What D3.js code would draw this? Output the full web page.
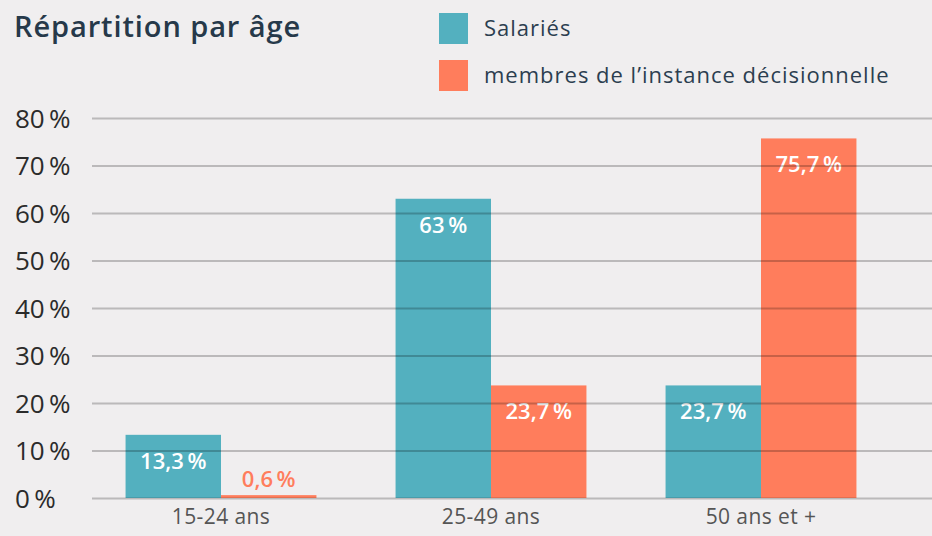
<!DOCTYPE html>
<html>
<head>
<meta charset="utf-8">
<script src="https://cdn.jsdelivr.net/npm/d3@7"></script>
<style>
  body { margin: 0; background: #f0eeef; }
  svg { display: block; font-family: "Open Sans", sans-serif; }
</style>
</head>
<body>
<div id="chart"></div>
<script>
const categories = [`15-24 ans`, `25-49 ans`, `50 ans et +`];
const seriesNames = [`Salariés`, `membres de l’instance décisionnelle`];
const salaries = [13.3, 63, 23.7];
const membres = [0.6, 23.7, 75.7];
const yTicks = [0, 10, 20, 30, 40, 50, 60, 70, 80];

const colors = [`#53b0bf`, `#ff7d5c`];
const width = 932;
const height = 536;
const font = `"Open Sans", sans-serif`;

const fr = d3.formatLocale({ decimal: `,`, thousands: ` `, grouping: [3], currency: [``, `€`] });
const fmt = v => fr.format(Number.isInteger(v) ? `d` : `.1f`)(v) + `\u2009%`;

const data = categories.map((c, i) => ({
  category: c,
  values: [salaries[i], membres[i]]
}));

const svg = d3.select(`#chart`).append(`svg`)
    .attr(`width`, width)
    .attr(`height`, height);

const x0 = d3.scaleBand()
    .domain(categories)
    .range([86, 896])
    .paddingInner(0.293)
    .paddingOuter(0.1465);
const x1 = d3.scaleBand()
    .domain([0, 1])
    .range([0, x0.bandwidth()]);
const y = d3.scaleLinear()
    .domain([0, 80])
    .range([498, 118]);

// title
svg.append(`text`)
    .attr(`x`, 14)
    .attr(`y`, 37)
    .attr(`fill`, `#26394a`)
    .attr(`font-size`, 29)
    .attr(`font-weight`, 600)
    .attr(`letter-spacing`, 0.9)
    .text(`Répartition par âge`);

// legend
const legend = svg.append(`g`);
seriesNames.forEach((s, i) => {
  legend.append(`rect`)
      .attr(`x`, 439)
      .attr(`y`, 13 + i * 47)
      .attr(`width`, 29)
      .attr(`height`, 31)
      .attr(`fill`, colors[i]);
  legend.append(`text`)
      .attr(`x`, 484)
      .attr(`y`, 36 + i * 47)
      .attr(`fill`, `#2c3e50`)
      .attr(`font-size`, 22)
      .attr(`letter-spacing`, 1)
      .text(s);
});

// bars
const groups = svg.selectAll(`.group`)
  .data(data)
  .enter().append(`g`)
    .attr(`class`, `group`)
    .attr(`transform`, d => `translate(${x0(d.category)},0)`);

groups.selectAll(`rect`)
  .data(d => d.values)
  .enter().append(`rect`)
    .attr(`x`, (d, i) => x1(i))
    .attr(`width`, x1.bandwidth())
    .attr(`y`, d => y(d))
    .attr(`height`, d => y(0) - y(d))
    .attr(`fill`, (d, i) => colors[i]);

// y axis gridlines, drawn over bars
const yAxis = svg.append(`g`)
    .attr(`transform`, `translate(92,0)`)
    .call(d3.axisRight(y).tickValues(yTicks).tickSize(width - 92).tickFormat(fmt));
yAxis.select(`.domain`).remove();
yAxis.selectAll(`.tick line`)
    .attr(`stroke`, `#000`)
    .attr(`stroke-opacity`, 0.22)
    .attr(`stroke-width`, 2);
yAxis.selectAll(`.tick text`)
    .attr(`x`, -77)
    .attr(`dy`, `0.36em`)
    .attr(`text-anchor`, `start`)
    .attr(`fill`, `#2b2b2b`)
    .attr(`font-size`, 26)
    .attr(`font-family`, font);

// value labels
groups.selectAll(`.label`)
  .data(d => d.values)
  .enter().append(`text`)
    .attr(`class`, `label`)
    .attr(`x`, (d, i) => x1(i) + x1.bandwidth() / 2)
    .attr(`y`, d => (y(0) - y(d) > 40 ? y(d) + 34 : y(d) - 8))
    .attr(`text-anchor`, `middle`)
    .attr(`font-size`, 22)
    .attr(`font-weight`, 600)
    .attr(`fill`, (d, i) => (y(0) - y(d) > 40 ? `#fff` : colors[i]))
    .text(d => fmt(d));

// x axis labels
const xAxis = svg.append(`g`)
    .attr(`transform`, `translate(0,498)`)
    .call(d3.axisBottom(x0).tickSize(0).tickPadding(11));
xAxis.select(`.domain`).remove();
xAxis.selectAll(`.tick text`)
    .attr(`fill`, `#555`)
    .attr(`font-size`, 21)
    .attr(`letter-spacing`, 0.4)
    .attr(`font-family`, font);
</script>
</body>
</html>
